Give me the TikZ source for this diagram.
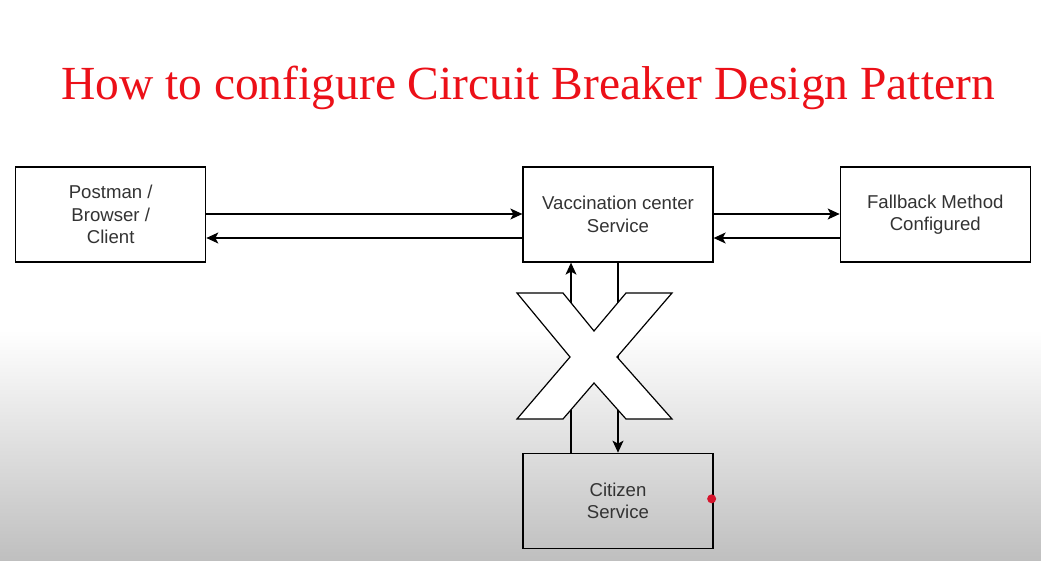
\documentclass[tikz,border=0pt]{standalone}
\usepackage{fontspec}
\setmainfont{Liberation Serif}
\setsansfont{Liberation Sans}
\usepackage{tikz}
\usetikzlibrary{arrows.meta, positioning}

\definecolor{titlered}{RGB}{236,16,24}
\definecolor{dotred}{RGB}{214,20,44}

\tikzset{
    block/.style = {draw, line width=1.3pt, minimum width=190pt,
        minimum height=95pt, align=center, inner sep=0pt,
        font=\sffamily\fontsize{18.6}{22.5}\selectfont, text=black!80},
    flow/.style = {-{Stealth[length=12pt, width=11pt, inset=3pt]}, line width=1.2pt}
}

\begin{document}
\begin{tikzpicture}[x=1pt, y=-1pt]
        \useasboundingbox (0,0) rectangle (1041,560);
        \fill [white] (0,0) rectangle (1041,330);
        \shade [top color=white, bottom color=black!25] (0,330) rectangle (1041,560);

        \node (title) [anchor=base, text=titlered, font=\fontsize{47.5}{54}\selectfont] at (528,99)
            {How to configure Circuit Breaker Design Pattern};

        \node (vacc) [block] at (618,214.5) {Vaccination center\\Service};
        \node (post) [block, left=316pt of vacc] {Postman /\\Browser /\\Client};
        \node (fall) [block, right=126pt of vacc] {Fallback Method\\Configured};
        \node (cit) [block, below=190pt of vacc] {Citizen\\Service};

        \node (dot) [circle, fill=dotred, inner sep=0pt, minimum size=9pt] at ([xshift=-2pt,yshift=2pt]cit.east) {};

        \path [flow]
            ([yshift=0.5pt]post.east) edge ([yshift=0.5pt]vacc.west)
            ([yshift=-23.5pt]vacc.west) edge ([yshift=-23.5pt]post.east)

            ([yshift=0.5pt]vacc.east) edge ([yshift=0.5pt]fall.west)
            ([yshift=-23.5pt]fall.west) edge ([yshift=-23.5pt]vacc.east)

            ([xshift=-47pt]cit.north) edge ([xshift=-47pt]vacc.south)
            (vacc.south) edge (cit.north);

        % the big cross over the link to the citizen service
        \draw [line width=1.2pt, fill=white, line join=miter]
            (517,293) -- (563,293) -- (594,331) -- (626,293) -- (672,293)
            -- (617,357) -- (672,419) -- (626,419) -- (594,383) -- (563,419)
            -- (517,419) -- (570,357) -- cycle;
    \end{tikzpicture}
\end{document}
